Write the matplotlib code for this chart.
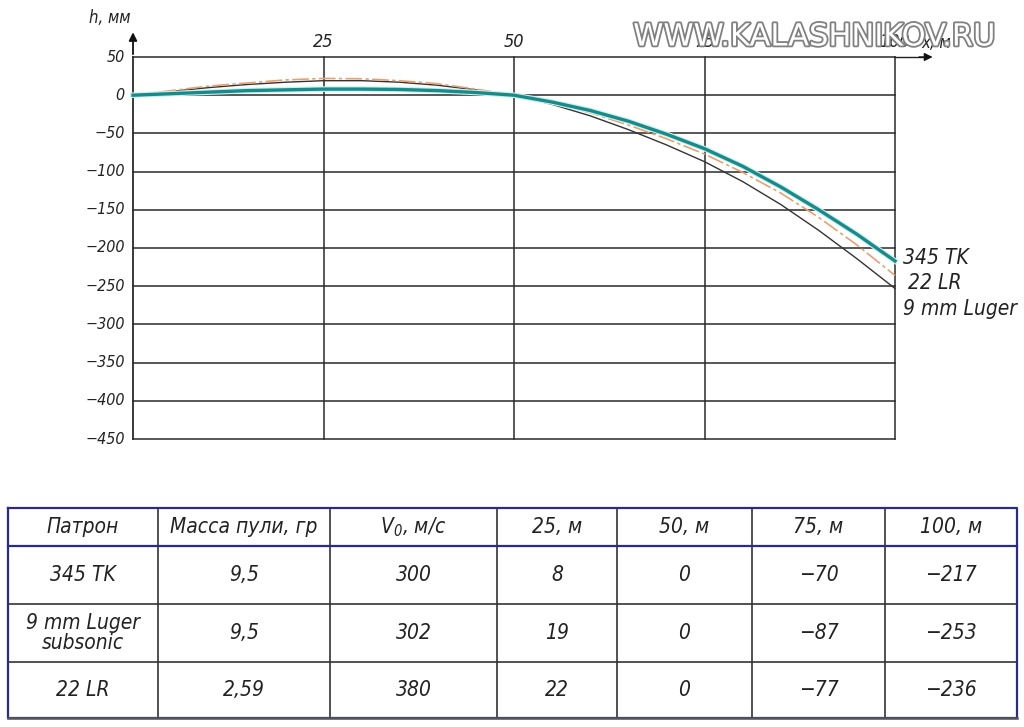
import matplotlib.pyplot as plt
import matplotlib.patheffects as pe
from matplotlib.lines import Line2D

# -------- DATA --------
distance = [0, 5, 10, 15, 20, 25, 30, 35, 40, 45, 50,
            55, 60, 65, 70, 75, 80, 85, 90, 95, 100]
drop_345tk = [0, 2, 4, 6, 7, 8, 8, 7.5, 6, 3.5, 0,
              -9, -20, -34, -51, -70, -93, -120, -150, -182, -217]
drop_9mm = [0, 5, 10, 14, 17, 19, 19, 17, 13, 7, 0,
            -12, -27, -45, -65, -87, -113, -143, -177, -214, -253]
drop_22lr = [0, 6, 12, 16, 20, 22, 21.5, 19, 15, 8, 0,
             -10, -23, -39, -57, -77, -101, -128, -160, -196, -236]

y_ticks = [50, 0, -50, -100, -150, -200, -250, -300, -350, -400, -450]
x_ticks = [25, 50, 75, 100]

table_header = ["Патрон", "Масса пули, гр", "V$_0$, м/с", "25, м", "50, м", "75, м", "100, м"]
table_rows = [
    ["345 TK", "9,5", "300", "8", "0", "−70", "−217"],
    ["9 mm Luger\nsubsonic", "9,5", "302", "19", "0", "−87", "−253"],
    ["22 LR", "2,59", "380", "22", "0", "−77", "−236"],
]

# -------- CONFIG --------
W, H = 1024, 727
plt.rcParams["font.family"] = ["DejaVu Sans"]
plt.rcParams["font.style"] = "italic"
plt.rcParams["font.stretch"] = "condensed"
plt.rcParams["mathtext.fontset"] = "dejavusans"
plt.rcParams["mathtext.default"] = "it"
TXT = "#222222"

fig = plt.figure(figsize=(W / 100, H / 100), dpi=100)


def px_rect(x0, y0, x1, y1):
    return [x0 / W, 1 - y1 / H, (x1 - x0) / W, (y1 - y0) / H]


# -------- CHART --------
ax = fig.add_axes(px_rect(133, 57, 895, 439))
ax.set_xlim(0, 100)
ax.set_ylim(-450, 50)
for s in ax.spines.values():
    s.set_visible(False)
ax.set_xticks([])
ax.set_yticks([])

for yv in y_ticks:
    ax.axhline(yv, color="#2a2a2a", lw=1.1, zorder=1, clip_on=False)
    ax.text(-1.1, yv, f"{yv}".replace("-", "−"), ha="right", va="center",
            fontsize=11.5, color=TXT)
for xv in x_ticks:
    ax.axvline(xv, color="#2a2a2a", lw=1.1, zorder=1, clip_on=False)
ax.axvline(0, color="#2a2a2a", lw=1.3, zorder=1, clip_on=False)
for xv in x_ticks:
    ax.text(xv, 58, str(xv), ha="center", va="bottom", fontsize=13, color=TXT, zorder=0)
ax.text(103.5, 57, "x, м", ha="left", va="bottom", fontsize=12, color=TXT, zorder=0)
ax.text(-5.8, 101, "h, мм", ha="left", va="center", fontsize=12, color=TXT)

# axis arrows
ax.add_line(Line2D([100, 104], [50, 50], color="#222222", lw=1.0, clip_on=False))
ax.annotate("", xy=(105.3, 50), xytext=(102.8, 50), annotation_clip=False,
            arrowprops=dict(arrowstyle="-|>", color="#111111", lw=1.0,
                            mutation_scale=12))
ax.annotate("", xy=(0, 86), xytext=(0, 50), annotation_clip=False,
            arrowprops=dict(arrowstyle="-|>", color="#111111", lw=1.3,
                            mutation_scale=12))

ax.plot(distance, drop_9mm, color="#333333", lw=1.0, zorder=3, clip_on=False)
ax.plot(distance, drop_22lr, color="#e8a070", lw=1.2, ls=(0, (10, 2, 2, 2)),
        zorder=3, clip_on=False)
ax.plot(distance, drop_345tk, color="#1a8a88", lw=2.4, zorder=4, clip_on=False,
        path_effects=[pe.Stroke(linewidth=4, foreground="#c4f2f0"), pe.Normal()])

ax.text(101, -213, "345 TK", ha="left", va="center", fontsize=15, color=TXT)
ax.text(101.7, -246, "22 LR", ha="left", va="center", fontsize=15, color=TXT)
ax.text(101, -280, "9 mm Luger", ha="left", va="center", fontsize=15, color=TXT)

# watermark
fig.text(814 / W, 1 - 37 / H, "WWW.KALASHNIKOV.RU", ha="center", va="center",
         fontsize=22, family="DejaVu Sans", style="normal", stretch="normal",
         color="white", zorder=10,
         path_effects=[pe.withStroke(linewidth=2.6, foreground="#808080")])

# -------- TABLE --------
tab = fig.add_axes(px_rect(0, 500, 1024, 727))
tab.set_xlim(0, W)
tab.set_ylim(727, 500)
tab.axis("off")

col_edges = [8, 158, 330, 497, 617, 752, 885, 1017]
row_edges = [508, 546, 604, 662, 718]
navy = "#2a2a8a"
dark = "#333333"

for x in col_edges[1:-1]:
    tab.plot([x, x], [row_edges[0], row_edges[-1]], color=dark, lw=1.2)
for y in row_edges[2:-1]:
    tab.plot([col_edges[0], col_edges[-1]], [y, y], color=dark, lw=1.2)
tab.plot([col_edges[0], col_edges[-1]], [row_edges[1], row_edges[1]], color=navy, lw=1.6)
tab.plot([col_edges[0], col_edges[-1], col_edges[-1], col_edges[0], col_edges[0]],
         [row_edges[0], row_edges[0], row_edges[-1], row_edges[-1], row_edges[0]],
         color=navy, lw=1.6)
tab.plot([col_edges[0], col_edges[-1]], [row_edges[-1], row_edges[-1]], color="#555555", lw=1.8)

centers = [(col_edges[i] + col_edges[i + 1]) / 2 for i in range(len(col_edges) - 1)]
for cx, label in zip(centers, table_header):
    tab.text(cx, (row_edges[0] + row_edges[1]) / 2, label, ha="center", va="center",
             fontsize=15, color=TXT)
for r, row in enumerate(table_rows):
    cy = (row_edges[r + 1] + row_edges[r + 2]) / 2
    for cx, val in zip(centers, row):
        tab.text(cx, cy, val, ha="center", va="center", fontsize=15, color=TXT,
                 linespacing=0.95)

fig.savefig("out.png", dpi=100)
